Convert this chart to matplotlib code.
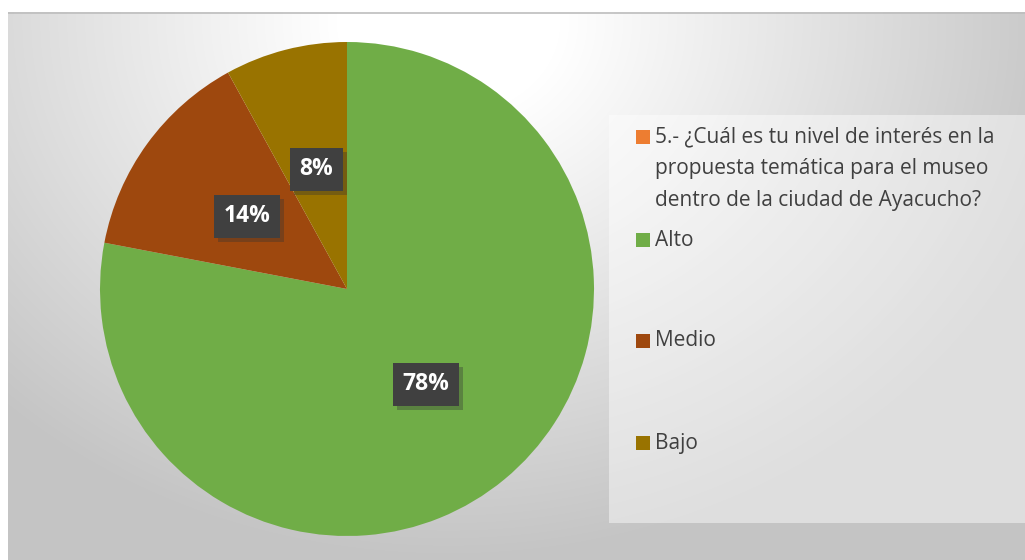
import matplotlib
matplotlib.use("Agg")
import matplotlib.pyplot as plt
import matplotlib.patheffects as pe
import numpy as np
from matplotlib.patches import Rectangle

# data
categorias = ["Alto", "Medio", "Bajo"]
valores = [78, 14, 8]
colores = ["#70AD47", "#9E480E", "#997300"]
titulo_serie = "5.- ¿Cuál es tu nivel de interés en la\npropuesta temática para el museo\ndentro de la ciudad de Ayacucho?"
color_serie = "#ED7D31"

W, H = 1025, 560
fig = plt.figure(figsize=(W / 100, H / 100), dpi=100)
fig.patch.set_facecolor("white")

# background radial gradient (chart area)
bg = fig.add_axes([8 / W, 0, 1 - 8 / W, (H - 12) / H])
yy, xx = np.mgrid[0:548, 0:1017]
d = np.sqrt(((xx - 440) / 620.0) ** 2 + ((yy - 10) / 520.0) ** 2)
g = 1.0 - 0.23 * np.clip((d - 0.18) / 0.85, 0, 1)
img = np.dstack([g, g, g])
bg.imshow(img, aspect="auto", extent=[0, 1017, 548, 0])
bg.set_xlim(0, 1017)
bg.set_ylim(548, 0)
bg.axis("off")
bg.plot([0, 1017], [0.5, 0.5], color="#bdbdbd", lw=1.2)

# legend panel
bg.add_patch(Rectangle((601, 103), 420, 408, facecolor="white", alpha=0.45, edgecolor="none"))

# pie
cx, cy, r = 347, 289, 247
ax = fig.add_axes([(cx - r) / W, (H - cy - r) / H, 2 * r / W, 2 * r / H])
wedges, textos, pcts = ax.pie(valores, colors=colores, startangle=90, counterclock=False,
                              autopct="%1.0f%%", pctdistance=0.5, radius=1.0,
                              wedgeprops=dict(linewidth=0))
for t in textos:
    t.set_visible(False)
for t in pcts:
    t.set_color("white")
    t.set_fontsize(16.5)
    t.set_fontweight("bold")
    t.set_family(["Open Sans", "DejaVu Sans"])
    t.set_bbox(dict(boxstyle="square,pad=0.42", facecolor="#404040", edgecolor="none"))
    t.get_bbox_patch().set_path_effects([pe.SimplePatchShadow(offset=(3, -3), alpha=0.35, shadow_rgbFace="#333333"), pe.Normal()])
ax.set_xlim(-1, 1)
ax.set_ylim(-1, 1)
ax.set_aspect("equal")

# legend (manual, Excel-like)
fam = ["Open Sans", "DejaVu Sans"]
txtcol = "#404040"
sq = 14
entradas = [(titulo_serie, color_serie, 137)] + [(c, col, y) for c, col, y in zip(categorias, colores, [240, 341, 443])]
for i, (texto, col, y) in enumerate(entradas):
    fig.patches.append(Rectangle((636 / W, (H - y - sq / 2) / H), sq / W, sq / H,
                                 transform=fig.transFigure, facecolor=col, edgecolor="none"))
    if i == 0:
        fig.text(655 / W, (H - 126) / H, texto, ha="left", va="top",
                 fontsize=15, color=txtcol, family=fam, linespacing=1.68)
    else:
        fig.text(655 / W, (H - y) / H, texto, ha="left", va="center",
                 fontsize=15, color=txtcol, family=fam)

fig.savefig("out.png", dpi=100)
